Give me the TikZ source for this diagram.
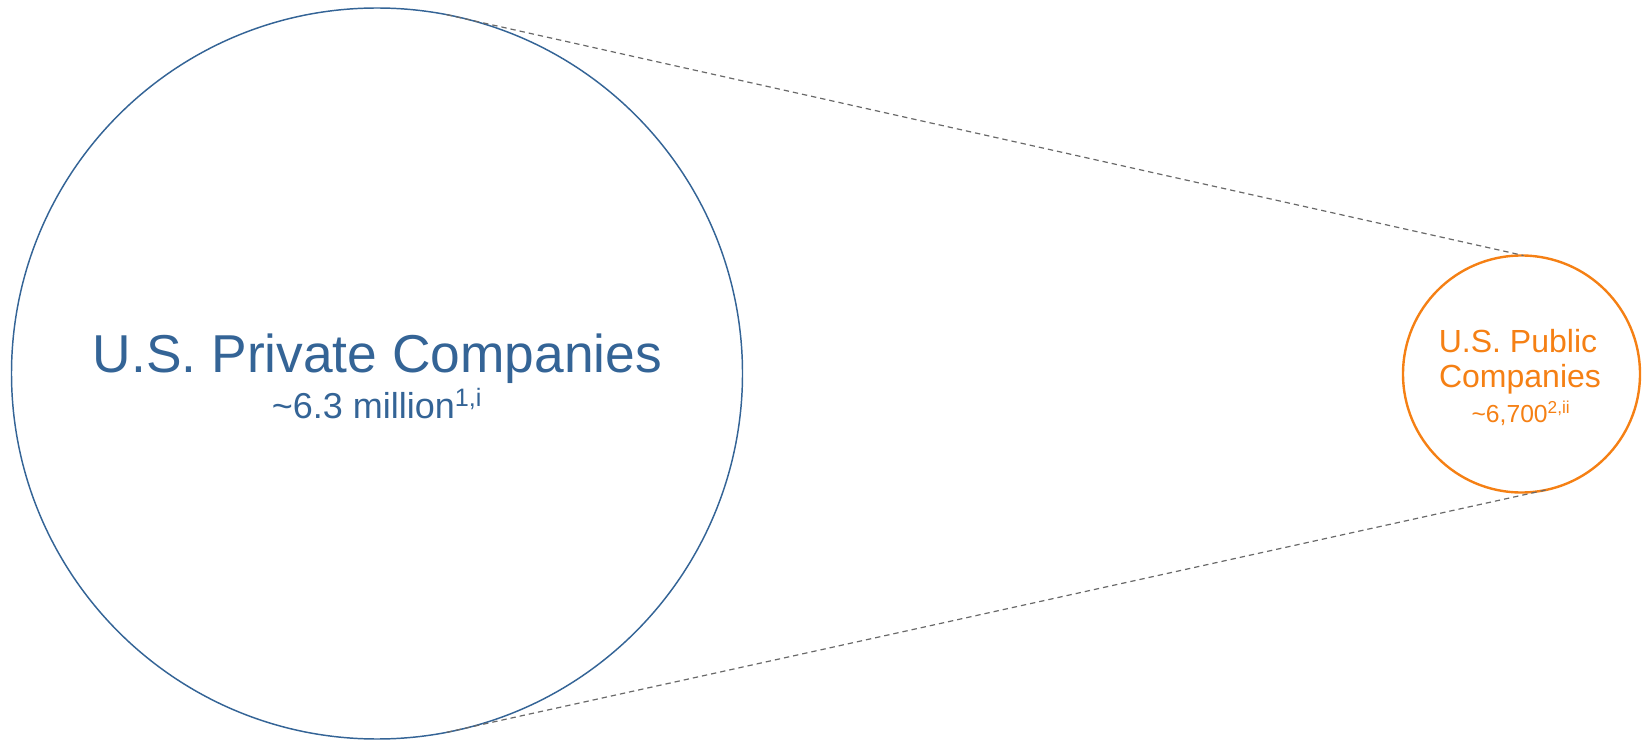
\documentclass[tikz,border=0pt]{standalone}
\usepackage{fontspec}
\setmainfont{Liberation Sans}
\definecolor{pblue}{RGB}{52,100,150}
\definecolor{porange}{RGB}{245,128,20}
\definecolor{dgray}{RGB}{105,105,105}
\begin{document}
\begin{tikzpicture}[x=0.75pt,y=-0.75pt,
  bigcirc/.style={circle,draw=pblue,line width=1.1pt,minimum size=548.25pt,inner sep=0pt,outer sep=0pt},
  smallcirc/.style={circle,draw=porange,line width=1.8pt,minimum size=177.75pt,inner sep=0pt,outer sep=0pt},
  zoomline/.style={draw=dgray,line width=0.9pt,dash pattern=on 4pt off 3pt},
  lbl/.style={anchor=base,inner sep=0pt}]
\useasboundingbox (0,0) rectangle (1642,741);
\node[bigcirc] (big) at (377,373.5) {};
\node[smallcirc] (small) at (1521.5,374) {};
\draw[zoomline] (big.79) -- (small.89);
\draw[zoomline] (big.-79) -- (small.-77);
\node[lbl,text=pblue,font=\fontsize{40}{48}\selectfont] (t1) at (377.5,373) {U.S. Private Companies};
\node[lbl,text=pblue,font=\fontsize{27}{32}\selectfont] (t2) at (377,419) {\char`~6.3 million\textsuperscript{1,i}};
\node[lbl,text=porange,font=\fontsize{24}{29}\selectfont] (t3) at (1518,353) {U.S. Public};
\node[lbl,text=porange,font=\fontsize{24}{29}\selectfont] (t4) at (1520,388) {Companies};
\node[lbl,text=porange,font=\fontsize{18.5}{22}\selectfont] (t5) at (1521,422) {\char`~6,700\textsuperscript{2,ii}};
\end{tikzpicture}
\end{document}
